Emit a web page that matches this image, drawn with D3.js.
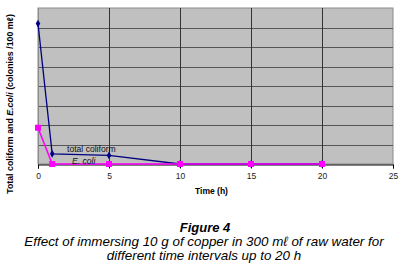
<!DOCTYPE html>
<html>
<head>
<meta charset="utf-8">
<script src="https://cdn.jsdelivr.net/npm/d3@7"></script>
<style>
  body { margin: 0; background: #fff; }
  text { font-family: Arial, "Liberation Sans", sans-serif; }
</style>
</head>
<body>
<script>
// chart size
var width = 407;
var height = 265;

// data
var hours = [0, 1, 5, 10, 15, 20];
var totalColiform = [360, 26, 22, 0, 0, 0];
var eColi = [93, 0, 0, 0, 0, 0];
var xTicks = [0, 5, 10, 15, 20, 25];
var yGrid = [50, 100, 150, 200, 250, 300, 350, 400];
var caption = [
  "Effect of immersing 10 g of copper in 300 m\u2113 of raw water for",
  "different time intervals up to 20 h"
];

var margin = {left: 38, top: 8, right: 393, bottom: 164};

var svg = d3.select("body")
  .append("svg")
  .attr("width", width)
  .attr("height", height);

var x = d3.scaleLinear().domain([0, 25]).range([margin.left, margin.right]);
var y = d3.scaleLinear().domain([0, 400]).range([margin.bottom, margin.top]);

// plot area
svg.append("rect")
  .attr("x", x(0))
  .attr("y", y(400))
  .attr("width", x(25) - x(0))
  .attr("height", y(0) - y(400))
  .style("fill", "#c0c0c0")
  .style("stroke", "#8a8a8a")
  .style("stroke-width", 1);

// grid lines
svg.selectAll(".hgrid")
  .data(yGrid.slice(0, -1))
  .enter()
  .append("line")
  .attr("x1", x(0))
  .attr("x2", x(25))
  .attr("y1", function(d) { return Math.round(y(d)) + 0.5; })
  .attr("y2", function(d) { return Math.round(y(d)) + 0.5; })
  .style("stroke", "#555")
  .style("stroke-width", 1);

svg.selectAll(".vgrid")
  .data(xTicks.slice(1, -1))
  .enter()
  .append("line")
  .attr("x1", function(d) { return Math.round(x(d)) + 0.5; })
  .attr("x2", function(d) { return Math.round(x(d)) + 0.5; })
  .attr("y1", y(400))
  .attr("y2", y(0))
  .style("stroke", "#333")
  .style("stroke-width", 1);

// x axis
var xAxis = d3.axisBottom(x)
  .tickValues(xTicks)
  .tickSize(4)
  .tickPadding(4)
  .tickFormat(d3.format("d"));

var gx = svg.append("g")
  .attr("transform", "translate(0," + (Math.round(y(0)) + 0.5) + ")")
  .call(xAxis);
gx.select(".domain").style("stroke", "#000");
gx.selectAll("line").style("stroke", "#000");
gx.selectAll("text")
  .style("font-size", "8.5px")
  .style("fill", "#222");

// y axis line
svg.append("line")
  .attr("x1", Math.round(x(0)) + 0.5)
  .attr("x2", Math.round(x(0)) + 0.5)
  .attr("y1", y(400))
  .attr("y2", y(0))
  .style("stroke", "#8a8a8a");

// lines
var line = d3.line()
  .x(function(d) { return x(d[0]); })
  .y(function(d) { return y(d[1]); });

var tcData = hours.map(function(h, i) { return [h, totalColiform[i]]; });
var ecData = hours.map(function(h, i) { return [h, eColi[i]]; });

svg.append("path")
  .datum(tcData)
  .attr("d", line)
  .style("fill", "none")
  .style("stroke", "#000080")
  .style("stroke-width", 1.3);

svg.selectAll(".tc")
  .data(tcData)
  .enter()
  .append("path")
  .attr("class", "tc")
  .attr("d", d3.symbol().type(d3.symbolDiamond).size(18))
  .attr("transform", function(d) { return "translate(" + x(d[0]) + "," + y(d[1]) + ")"; })
  .style("fill", "#000080");

svg.append("path")
  .datum(ecData)
  .attr("d", line)
  .style("fill", "none")
  .style("stroke", "#ff00ff")
  .style("stroke-width", 1.6);

svg.selectAll(".ec")
  .data(ecData)
  .enter()
  .append("rect")
  .attr("class", "ec")
  .attr("x", function(d) { return x(d[0]) - 3; })
  .attr("y", function(d) { return y(d[1]) - 3; })
  .attr("width", 6)
  .attr("height", 6)
  .style("fill", "#ff00ff");

// series labels
svg.append("text")
  .attr("x", 67)
  .attr("y", 152)
  .style("font-size", "8.6px")
  .style("fill", "#111")
  .text("total coliform");

svg.append("text")
  .attr("x", 72)
  .attr("y", 164)
  .style("font-size", "8.6px")
  .style("font-style", "italic")
  .style("fill", "#111")
  .text("E. coli");

// axis titles
svg.append("text")
  .attr("x", 195)
  .attr("y", 194)
  .style("font-size", "8.5px")
  .style("font-weight", "bold")
  .text("Time (h)");

var yt = svg.append("text")
  .attr("transform", "translate(13,104) rotate(-90)")
  .attr("text-anchor", "middle")
  .style("font-size", "8.8px")
  .style("font-weight", "bold");
yt.append("tspan").text("Total coliform and ");
yt.append("tspan").style("font-style", "italic").text("E.coli");
yt.append("tspan").text(" (colonies /100 m\u2113)");

// caption
svg.append("text")
  .attr("x", 205)
  .attr("y", 232)
  .attr("text-anchor", "middle")
  .style("font-size", "13px")
  .style("font-weight", "bold")
  .style("font-style", "italic")
  .text("Figure 4");

svg.selectAll(".cap")
  .data(caption)
  .enter()
  .append("text")
  .attr("x", 204)
  .attr("y", function(d, i) { return 246 + i * 14; })
  .attr("text-anchor", "middle")
  .style("font-size", "13.4px")
  .style("font-style", "italic")
  .text(function(d) { return d; });
</script>
</body>
</html>
